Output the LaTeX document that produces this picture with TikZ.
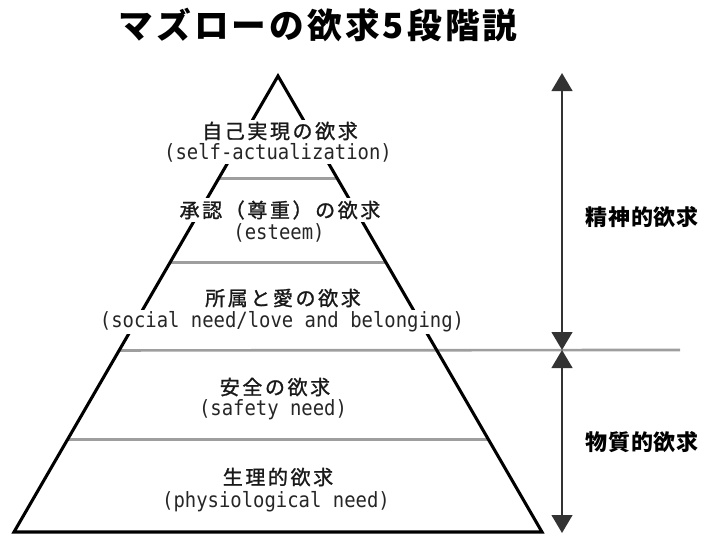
\documentclass[tikz,border=0pt]{standalone}
\usepackage{fontspec}
\newfontfamily\jpfont[LetterSpace=13,FakeBold=1.2]{Noto Sans CJK JP}
\newfontfamily\jptitle[LetterSpace=9]{Noto Sans CJK JP}
\newfontfamily\jplabel[LetterSpace=3]{Noto Sans CJK JP}
\newfontfamily\monofont[FakeStretch=0.9]{DejaVu Sans Mono}
\usetikzlibrary{arrows.meta}
\begin{document}
\begin{tikzpicture}[x=0.75pt,y=-0.75pt,
  side/.style={line width=2.3pt, black, line join=miter},
  levelline/.style={draw=black!38, line width=2pt},
  axis/.style={draw=black!80, line width=1.8pt, {Triangle[width=15.5pt,length=13.5pt]}-{Triangle[width=15.5pt,length=13.5pt]}},
  jp/.style={font=\jpfont\fontsize{15pt}{16pt}\selectfont, text=black!90},
  en/.style={font=\monofont\fontsize{15.75pt}{16pt}\selectfont, text=black!85},
  lbl/.style={fill=white, inner sep=1.5pt},
  side label/.style={font=\jplabel\bfseries\fontsize{16.5pt}{17pt}\selectfont},
  title/.style={font=\jptitle\bfseries\fontsize{26pt}{28pt}\selectfont}
]
\useasboundingbox (0,0) rectangle (702,536);
% pyramid corners
\coordinate (apex) at (278,76);
\coordinate (bl) at (14,532);
\coordinate (br) at (542,532);
\path (apex) -- (bl) coordinate[pos=0.2254] (l1) coordinate[pos=0.4092] (l2)
                     coordinate[pos=0.6018] (l3) coordinate[pos=0.7965] (l4);
\path (apex) -- (br) coordinate[pos=0.2254] (r1) coordinate[pos=0.4092] (r2)
                     coordinate[pos=0.6018] (r3) coordinate[pos=0.7965] (r4);
\coordinate (edge) at (680,350);
% level separators
\draw[levelline] (l1) -- (r1);
\draw[levelline] (l2) -- (r2);
\draw[levelline] (l3) -- (edge);
\draw[levelline] (l4) -- (r4);
% pyramid outline
\draw[side] (bl) -- (apex) -- (br) -- cycle;
% vertical arrows
\coordinate (atop) at (562,73);
\coordinate (amid) at (562,350);
\coordinate (abot) at (562,533);
\draw[axis] (atop) -- (amid);
\draw[axis] (amid) -- (abot);
% title
\node[title] (ttl) at (318,25) {マズローの欲求5段階説};
% level texts
\node[jp,lbl] (t1) at (280,131) {自己実現の欲求};
\node[en,lbl] (e1) at (278,153) {(self-actualization)};
\node[jp,lbl] (t2) at (280,210) {承認（尊重）の欲求};
\node[en,lbl] (e2) at (279,233) {(esteem)};
\node[jp,lbl] (t3) at (283,298) {所属と愛の欲求};
\node[en,lbl] (e3) at (282,322) {(social need/love and belonging)};
\node[jp,lbl] (t4) at (275,387) {安全の欲求};
\node[en,lbl] (e4) at (273,410) {(safety need)};
\node[jp,lbl] (t5) at (278,477) {生理的欲求};
\node[en,lbl] (e5) at (276,502) {(physiological need)};
% side labels
\node[side label] (s1) at (642,217) {精神的欲求};
\node[side label] (s2) at (642,442) {物質的欲求};
\end{tikzpicture}
\end{document}
